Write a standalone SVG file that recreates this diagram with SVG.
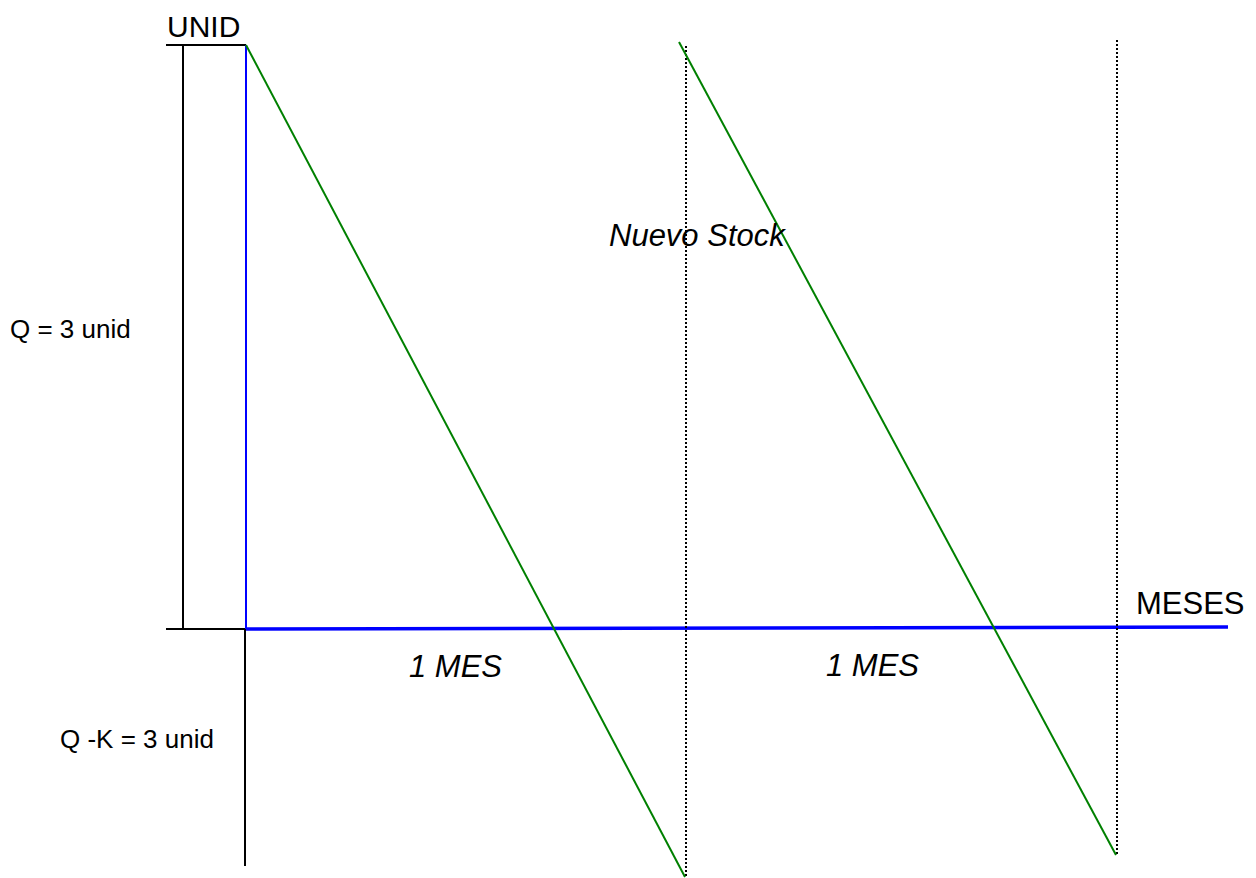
<svg xmlns="http://www.w3.org/2000/svg" width="1256" height="878" viewBox="0 0 1256 878">
<style>
.t{font-family:"Liberation Sans",Arial,sans-serif;fill:#000}
.L{font-size:31px}
.S{font-size:26px}
.i{font-style:italic}
.ax{stroke:#000;stroke-width:2;fill:none}
.dot{stroke:#000;stroke-width:2;stroke-dasharray:2 2;fill:none}
.g{stroke:#008000;stroke-width:2;fill:none}
.b{stroke:#0000ff;fill:none}
</style>
<rect width="1256" height="878" fill="#fff"/>
<g id="connectors">
<line class="ax" x1="166" y1="45" x2="246" y2="45"/>
<line class="ax" x1="183" y1="45" x2="183" y2="629"/>
<line class="ax" x1="166" y1="629" x2="246" y2="629"/>
<line class="ax" x1="245" y1="629" x2="245" y2="866"/>
<line class="b" stroke-width="2" x1="246" y1="45" x2="246" y2="629"/>
<line class="b" stroke-width="3.5" x1="246" y1="629" x2="1228" y2="627"/>
<line class="dot" x1="686" y1="46" x2="686" y2="877"/>
<line class="dot" x1="1117" y1="40" x2="1117" y2="855"/>
<line class="g" x1="246" y1="45" x2="685" y2="877"/>
<line class="g" x1="679" y1="42" x2="1116" y2="855"/>
</g>
<g id="labels">
<text class="t" x="167" y="37" font-size="30">UNID</text>
<text class="t L" x="1136" y="614">MESES</text>
<text class="t L i" x="609" y="246">Nuevo Stock</text>
<text class="t L i" x="409" y="677">1 MES</text>
<text class="t L i" x="826" y="676">1 MES</text>
<text class="t S" x="10" y="338">Q = 3 unid</text>
<text class="t S" x="60" y="748">Q -K = 3 unid</text>
</g>
</svg>
